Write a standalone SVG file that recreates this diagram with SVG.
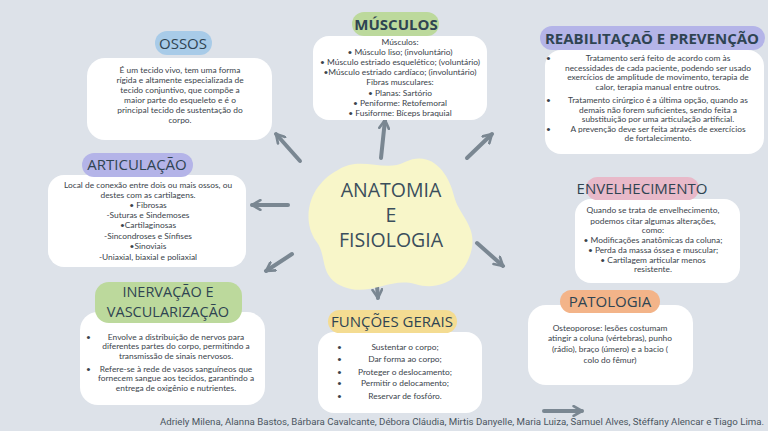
<svg xmlns="http://www.w3.org/2000/svg" width="768" height="431" viewBox="0 0 768 431">
<defs>
<style>
.bg{fill:#dde2e9}
.box{fill:#ffffff}
.t{font-family:Lato,"Open Sans",sans-serif;font-size:8.4px;fill:#3a434b;text-anchor:middle}
.tl{font-family:Lato,"Open Sans",sans-serif;font-size:8.4px;fill:#3a434b}
.h{font-family:"Open Sans",Lato,sans-serif;font-size:15px;fill:#2f4452;text-anchor:middle;font-weight:500}
.h2{font-family:"Open Sans",Lato,sans-serif;font-size:14.5px;fill:#2f4452;text-anchor:middle;font-weight:500}
.hb{font-family:"Open Sans",Lato,sans-serif;font-size:15px;fill:#2f4452;text-anchor:middle;font-weight:700}
.c{font-family:"Open Sans",Lato,sans-serif;font-size:19.5px;fill:#3b4e5c;text-anchor:middle;font-weight:400}
.ar{fill:none;stroke:#7a8792;stroke-width:4;stroke-linecap:round}
.foot{font-family:Roboto,"Liberation Sans",sans-serif;font-size:9px;fill:#4a5560}
</style>
<marker id="ah" viewBox="0 0 10 10" refX="8" refY="5" markerWidth="12" markerHeight="12" markerUnits="userSpaceOnUse" orient="auto">
<path d="M1,1 L8,5 L1,9" fill="none" stroke="#7a8792" stroke-width="2.2" stroke-linecap="round" stroke-linejoin="round"/>
</marker>
</defs>
<rect class="bg" x="0" y="0" width="768" height="431"/>

<g id="connectors">
<line class="ar" x1="300" y1="161" x2="276" y2="134" marker-end="url(#ah)"/>
<line class="ar" x1="288" y1="205" x2="252" y2="205" marker-end="url(#ah)"/>
<line class="ar" x1="381" y1="158" x2="385" y2="120" marker-end="url(#ah)"/>
<line class="ar" x1="467" y1="158" x2="492" y2="134" marker-end="url(#ah)"/>
<line class="ar" x1="477" y1="243" x2="503" y2="266" marker-end="url(#ah)"/>
<line class="ar" x1="292" y1="254" x2="266" y2="271" marker-end="url(#ah)"/>
<line class="ar" x1="375" y1="262" x2="378" y2="298" marker-end="url(#ah)"/>
<line class="ar" x1="544" y1="411" x2="582" y2="411" marker-end="url(#ah)"/>
</g>

<g id="center">
<path d="M338,170 C360,155 385,173 405,162 C432,149 449,174 454,196 C459,216 478,226 471,252 C464,277 441,292 415,284 C390,277 370,297 344,287 C318,277 328,256 316,241 C303,222 309,199 318,187 C325,178 329,175 338,170 Z" fill="#f8f6c9"/>
<text class="c" x="391" y="197">ANATOMIA</text>
<text class="c" x="391" y="222">E</text>
<text class="c" x="391" y="247">FISIOLOGIA</text>
</g>

<g id="ossos">
<rect class="box" x="87" y="58" width="185" height="82" rx="18"/>
<rect x="155" y="31" width="57" height="24" rx="12" fill="#a8cbe8"/>
<text class="h" x="183" y="49">OSSOS</text>
<text class="t" x="180" y="73">É um tecido vivo, tem uma forma</text>
<text class="t" x="180" y="83">rígida e altamente especializada de</text>
<text class="t" x="180" y="93">tecido conjuntivo, que compõe a</text>
<text class="t" x="180" y="103">maior parte do esqueleto e é o</text>
<text class="t" x="180" y="113">principal tecido de sustentação do</text>
<text class="t" x="180" y="123">corpo.</text>
</g>

<g id="musculos">
<rect class="box" x="313" y="36" width="174" height="84" rx="16"/>
<rect x="352" y="12" width="87" height="24" rx="12" fill="#bcd99c"/>
<text class="hb" x="396" y="30">MÚSCULOS</text>
<text class="t" x="400" y="45">Músculos:</text>
<text class="t" x="400" y="55">• Músculo liso; (involuntário)</text>
<text class="t" x="400" y="65">• Músculo estriado esquelético; (voluntário)</text>
<text class="t" x="400" y="75">•Músculo estriado cardíaco; (involuntário)</text>
<text class="t" x="400" y="85">Fibras musculares:</text>
<text class="t" x="400" y="96">• Planas: Sartório</text>
<text class="t" x="400" y="106">• Peniforme: Retofemoral</text>
<text class="t" x="400" y="116">• Fusiforme: Bíceps braquial</text>
</g>

<g id="reabilitacao">
<rect class="box" x="545" y="50" width="219" height="104" rx="16"/>
<rect x="540" y="26" width="225" height="24" rx="12" fill="#b4b4e8"/>
<text class="hb" x="652" y="44">REABILITAÇAÕ E PREVENÇÃO</text>
<text class="tl" x="546" y="61">•</text>
<text class="t" x="658" y="61">Tratamento será feito de acordo com às</text>
<text class="t" x="658" y="71">necessidades de cada paciente, podendo ser usado</text>
<text class="t" x="658" y="80">exercícios de amplitude de movimento, terapia de</text>
<text class="t" x="658" y="90">calor, terapia manual entre outros.</text>
<text class="tl" x="546" y="103">•</text>
<text class="t" x="658" y="103">Tratamento cirúrgico é a última opção, quando as</text>
<text class="t" x="658" y="113">demais não forem suficientes, sendo feita a</text>
<text class="t" x="658" y="122">substituição por uma articulação artificial.</text>
<text class="tl" x="546" y="132">•</text>
<text class="t" x="658" y="132">A prevenção deve ser feita através de exercícios</text>
<text class="t" x="658" y="141">de fortalecimento.</text>
</g>

<g id="articulacao">
<rect class="box" x="48" y="175" width="198" height="92" rx="16"/>
<rect x="82" y="153" width="111" height="24" rx="12" fill="#b4b4e8"/>
<text class="h" x="137" y="170">ARTICULAÇÃO</text>
<text class="t" x="148" y="188">Local de conexão entre dois ou mais ossos, ou</text>
<text class="t" x="148" y="198">destes com as cartilagens.</text>
<text class="t" x="148" y="208">• Fibrosas</text>
<text class="t" x="148" y="218">-Suturas e Sindemoses</text>
<text class="t" x="148" y="228">•Cartilaginosas</text>
<text class="t" x="148" y="239">-Sincondroses e Sínfises</text>
<text class="t" x="148" y="249">•Sinoviais</text>
<text class="t" x="148" y="260">-Uniaxial, biaxial e poliaxial</text>
</g>

<g id="envelhecimento">
<rect class="box" x="575" y="199" width="165" height="84" rx="16"/>
<rect x="586" y="177" width="113" height="23" rx="11.5" fill="#e8b9c9"/>
<text class="h" x="642" y="194">ENVELHECIMENTO</text>
<text class="t" x="653" y="213">Quando se trata de envelhecimento,</text>
<text class="t" x="653" y="224">podemos citar algumas alterações,</text>
<text class="t" x="653" y="233">como:</text>
<text class="t" x="653" y="243">• Modificações anatômicas da coluna;</text>
<text class="t" x="653" y="253">• Perda da massa óssea e muscular;</text>
<text class="t" x="653" y="263">• Cartilagem articular menos</text>
<text class="t" x="653" y="272">resistente.</text>
</g>

<g id="inervacao">
<rect class="box" x="80" y="312" width="185" height="93" rx="18"/>
<rect x="95" y="282" width="147" height="41" rx="14" fill="#bcd99c"/>
<text class="h2" x="168" y="297">INERVAÇÃO E</text>
<text class="h2" x="168" y="317">VASCULARIZAÇÃO</text>
<text class="tl" x="86" y="340">•</text>
<text class="t" x="176" y="340">Envolve a distribuição de nervos para</text>
<text class="t" x="176" y="349">diferentes partes do corpo, permitindo a</text>
<text class="t" x="176" y="359">transmissão de sinais nervosos.</text>
<text class="tl" x="86" y="372">•</text>
<text class="t" x="176" y="372">Refere-se à rede de vasos sanguíneos que</text>
<text class="t" x="176" y="381">fornecem sangue aos tecidos, garantindo a</text>
<text class="t" x="176" y="391">entrega de oxigênio e nutrientes.</text>
</g>

<g id="funcoes">
<rect class="box" x="318" y="332" width="164" height="81" rx="16"/>
<rect x="328" y="310" width="129" height="23" rx="11.5" fill="#f4dc92"/>
<text class="h" x="392" y="327">FUNÇÕES GERAIS</text>
<text class="tl" x="337" y="350">•</text>
<text class="t" x="405" y="350">Sustentar o corpo;</text>
<text class="tl" x="337" y="362">•</text>
<text class="t" x="405" y="362">Dar forma ao corpo;</text>
<text class="tl" x="337" y="375">•</text>
<text class="t" x="405" y="375">Proteger o deslocamento;</text>
<text class="tl" x="337" y="386">•</text>
<text class="t" x="405" y="386">Permitir o delocamento;</text>
<text class="tl" x="337" y="399">•</text>
<text class="t" x="405" y="399">Reservar de fosfóro.</text>
</g>

<g id="patologia">
<rect class="box" x="528" y="305" width="165" height="80" rx="18"/>
<rect x="560" y="290" width="100" height="23" rx="11.5" fill="#f3b489"/>
<text class="h" x="610" y="307">PATOLOGIA</text>
<text class="t" x="610" y="331">Osteoporose: lesões costumam</text>
<text class="t" x="610" y="341">atingir a coluna (vértebras), punho</text>
<text class="t" x="610" y="352">(rádio), braço (úmero) e a bacio (</text>
<text class="t" x="610" y="363">colo do fêmur)</text>
</g>

<text class="foot" x="160" y="425" textLength="604" lengthAdjust="spacingAndGlyphs">Adriely Milena, Alanna Bastos, Bárbara Cavalcante, Débora Cláudia, Mirtis Danyelle, Maria Luiza, Samuel Alves, Stéffany Alencar e Tiago Lima.</text>
</svg>
